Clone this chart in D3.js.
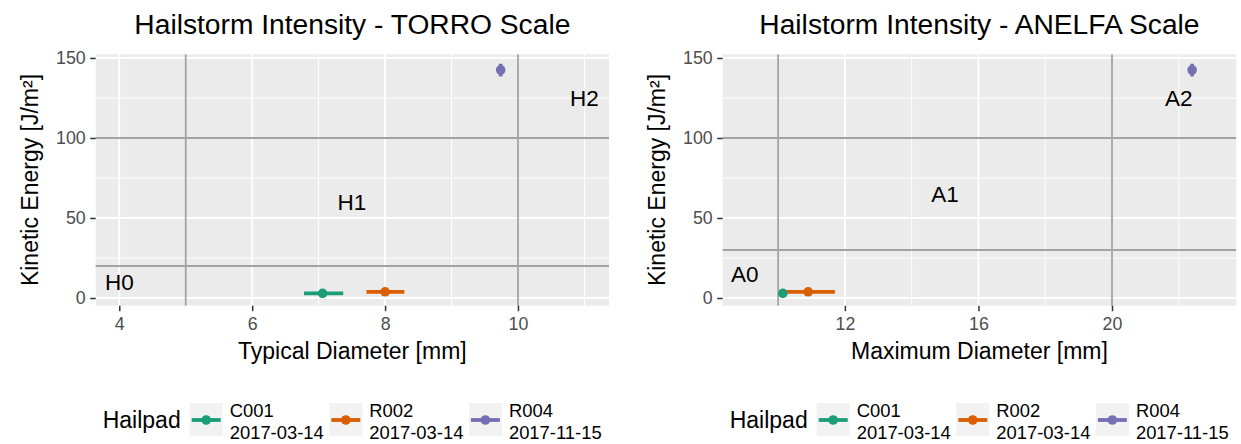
<!DOCTYPE html>
<html>
<head>
<meta charset="utf-8">
<script src="https://cdn.jsdelivr.net/npm/d3@7"></script>
<style>
  body { margin: 0; background: #fff; }
  svg { display: block; font-family: "Liberation Sans", Arial, sans-serif; }
</style>
</head>
<body>
<svg id="chart" width="1241" height="444"></svg>
<script>
// hailpad measurements
const hailpads = ["C001", "R002", "R004"]
const dates = ["2017-03-14", "2017-03-14", "2017-11-15"]
const energy = [2.9, 3.9, 142.5]
const energyLow = [2.5, 3.5, 138.5]
const energyHigh = [3.3, 4.3, 146.4]
const typicalDiam = [7.06, 8.0, 9.74]
const typicalLow = [6.78, 7.72, 9.72]
const typicalHigh = [7.37, 8.29, 9.76]
const maxDiam = [10.14, 10.9, 22.4]
const maxLow = [10.1, 10.15, 22.38]
const maxHigh = [10.18, 11.7, 22.42]

// scale thresholds + class labels
const torroX = [5, 10]
const torroY = [20, 100]
const torroLabels = ["H0", "H1", "H2"]
const torroLabelX = [4, 7.5, 11]
const torroLabelY = [10, 60, 125]
const anelfaX = [10, 20]
const anelfaY = [30, 100]
const anelfaLabels = ["A0", "A1", "A2"]
const anelfaLabelX = [9, 15, 22]
const anelfaLabelY = [15, 65, 125]

// ticks
const yTicks = [0, 50, 100, 150]
const yMinor = [25, 75, 125]
const torroTicks = [4, 6, 8, 10]
const torroMinor = [5, 7, 9, 11]
const anelfaTicks = [12, 16, 20]
const anelfaMinor = [10, 14, 18, 22]

const colors = d3.scaleOrdinal().domain(hailpads).range(["#1b9e77", "#d95f02", "#7570b3"])

const svg = d3.select("#chart")

function draw_panel(p) {
  let x = d3.scaleLinear().domain(p.xDomain).range([p.left, p.right])
  let y = d3.scaleLinear().domain([-4.8, 152.3]).range([p.bottom, p.top])
  let g = svg.append("g")

  g.append("rect")
    .attr("x", p.left).attr("y", p.top)
    .attr("width", p.right - p.left).attr("height", p.bottom - p.top)
    .attr("fill", "#ebebeb")

  // grid
  g.selectAll(".xminor").data(p.minor).enter().append("line")
    .attr("x1", d => x(d)).attr("x2", d => x(d))
    .attr("y1", p.top).attr("y2", p.bottom)
    .attr("stroke", "#fff").attr("stroke-width", 1)
  g.selectAll(".yminor").data(yMinor).enter().append("line")
    .attr("y1", d => y(d)).attr("y2", d => y(d))
    .attr("x1", p.left).attr("x2", p.right)
    .attr("stroke", "#fff").attr("stroke-width", 1)
  g.selectAll(".xmajor").data(p.ticks).enter().append("line")
    .attr("x1", d => x(d)).attr("x2", d => x(d))
    .attr("y1", p.top).attr("y2", p.bottom)
    .attr("stroke", "#fff").attr("stroke-width", 1.8)
  g.selectAll(".ymajor").data(yTicks).enter().append("line")
    .attr("y1", d => y(d)).attr("y2", d => y(d))
    .attr("x1", p.left).attr("x2", p.right)
    .attr("stroke", "#fff").attr("stroke-width", 1.8)

  // thresholds
  g.selectAll(".vthr").data(p.thrX).enter().append("line")
    .attr("x1", d => x(d)).attr("x2", d => x(d))
    .attr("y1", p.top).attr("y2", p.bottom)
    .attr("stroke", "#a3a3a3").attr("stroke-width", 1.8)
  g.selectAll(".hthr").data(p.thrY).enter().append("line")
    .attr("y1", d => y(d)).attr("y2", d => y(d))
    .attr("x1", p.left).attr("x2", p.right)
    .attr("stroke", "#a3a3a3").attr("stroke-width", 1.8)

  // class labels
  g.selectAll(".cls").data(p.labels).enter().append("text")
    .attr("x", (d, i) => x(p.labelX[i]))
    .attr("y", (d, i) => y(p.labelY[i]) + 8)
    .attr("text-anchor", "middle")
    .attr("font-size", 22.5)
    .attr("fill", "#000")
    .text(d => d)

  // error bars + points
  let idx = d3.range(hailpads.length)
  g.selectAll(".hbar").data(idx).enter().append("line")
    .attr("x1", i => x(p.low[i])).attr("x2", i => x(p.high[i]))
    .attr("y1", i => y(energy[i])).attr("y2", i => y(energy[i]))
    .attr("stroke", i => colors(hailpads[i])).attr("stroke-width", 3.8)
  g.selectAll(".vbar").data(idx).enter().append("line")
    .attr("x1", i => x(p.mid[i])).attr("x2", i => x(p.mid[i]))
    .attr("y1", i => y(energyLow[i])).attr("y2", i => y(energyHigh[i]))
    .attr("stroke", i => colors(hailpads[i])).attr("stroke-width", 3.8)
  g.selectAll(".pt").data(idx).enter().append("circle")
    .attr("cx", i => x(p.mid[i])).attr("cy", i => y(energy[i]))
    .attr("r", 4.8)
    .attr("fill", i => colors(hailpads[i]))

  // axes
  let xa = g.append("g")
    .attr("transform", `translate(0, ${p.bottom})`)
    .call(d3.axisBottom(x).tickValues(p.ticks).tickSize(5.5).tickPadding(6.5))
  let ya = g.append("g")
    .attr("transform", `translate(${p.left}, 0)`)
    .call(d3.axisLeft(y).tickValues(yTicks).tickSize(5.5).tickPadding(4.5))
  ;[xa, ya].forEach(a => {
    a.select(".domain").remove()
    a.selectAll(".tick line").attr("stroke", "#333").attr("stroke-width", 1.5)
    a.selectAll(".tick text")
      .attr("fill", "#4d4d4d")
      .style("font-size", "17.8px")
      .style("font-family", "Liberation Sans, Arial, sans-serif")
  })

  let cx = (p.left + p.right) / 2
  g.append("text")
    .attr("x", cx).attr("y", 359)
    .attr("text-anchor", "middle").attr("font-size", 23)
    .text(p.xTitle)
  g.append("text")
    .attr("transform", `translate(${p.left - 57.5}, ${(p.top + p.bottom) / 2}) rotate(-90)`)
    .attr("text-anchor", "middle").attr("font-size", 23)
    .text("Kinetic Energy [J/m²]")
  g.append("text")
    .attr("x", cx).attr("y", 34)
    .attr("text-anchor", "middle").attr("font-size", 28.2)
    .text(p.title)

  // legend
  let lx = p.left + 7
  let lg = g.append("g").attr("transform", `translate(${lx}, 0)`)
  lg.append("text").attr("x", 0).attr("y", 428).attr("font-size", 23).text("Hailpad")
  let item = lg.selectAll(".key").data(idx).enter().append("g")
    .attr("transform", i => `translate(${87 + i * 139.6}, 403)`)
  item.append("rect").attr("width", 33).attr("height", 33).attr("fill", "#f2f2f2")
  item.append("line").attr("x1", 2).attr("x2", 31).attr("y1", 17).attr("y2", 17)
    .attr("stroke", i => colors(hailpads[i])).attr("stroke-width", 3.8)
  item.append("circle").attr("cx", 16.5).attr("cy", 17).attr("r", 4.8)
    .attr("fill", i => colors(hailpads[i]))
  item.append("text").attr("x", 40).attr("y", 13.5).attr("font-size", 18.4).text(i => hailpads[i])
  item.append("text").attr("x", 40).attr("y", 36).attr("font-size", 18.4).text(i => dates[i])
}

draw_panel({
  left: 95.7, right: 609, top: 54.3, bottom: 305.7,
  xDomain: [3.645, 11.37], ticks: torroTicks, minor: torroMinor,
  thrX: torroX, thrY: torroY,
  labels: torroLabels, labelX: torroLabelX, labelY: torroLabelY,
  mid: typicalDiam, low: typicalLow, high: typicalHigh,
  title: "Hailstorm Intensity - TORRO Scale", xTitle: "Typical Diameter [mm]"
})

draw_panel({
  left: 722.7, right: 1236.2, top: 54.3, bottom: 305.7,
  xDomain: [8.34, 23.72], ticks: anelfaTicks, minor: anelfaMinor,
  thrX: anelfaX, thrY: anelfaY,
  labels: anelfaLabels, labelX: anelfaLabelX, labelY: anelfaLabelY,
  mid: maxDiam, low: maxLow, high: maxHigh,
  title: "Hailstorm Intensity - ANELFA Scale", xTitle: "Maximum Diameter [mm]"
})
</script>
</body>
</html>
